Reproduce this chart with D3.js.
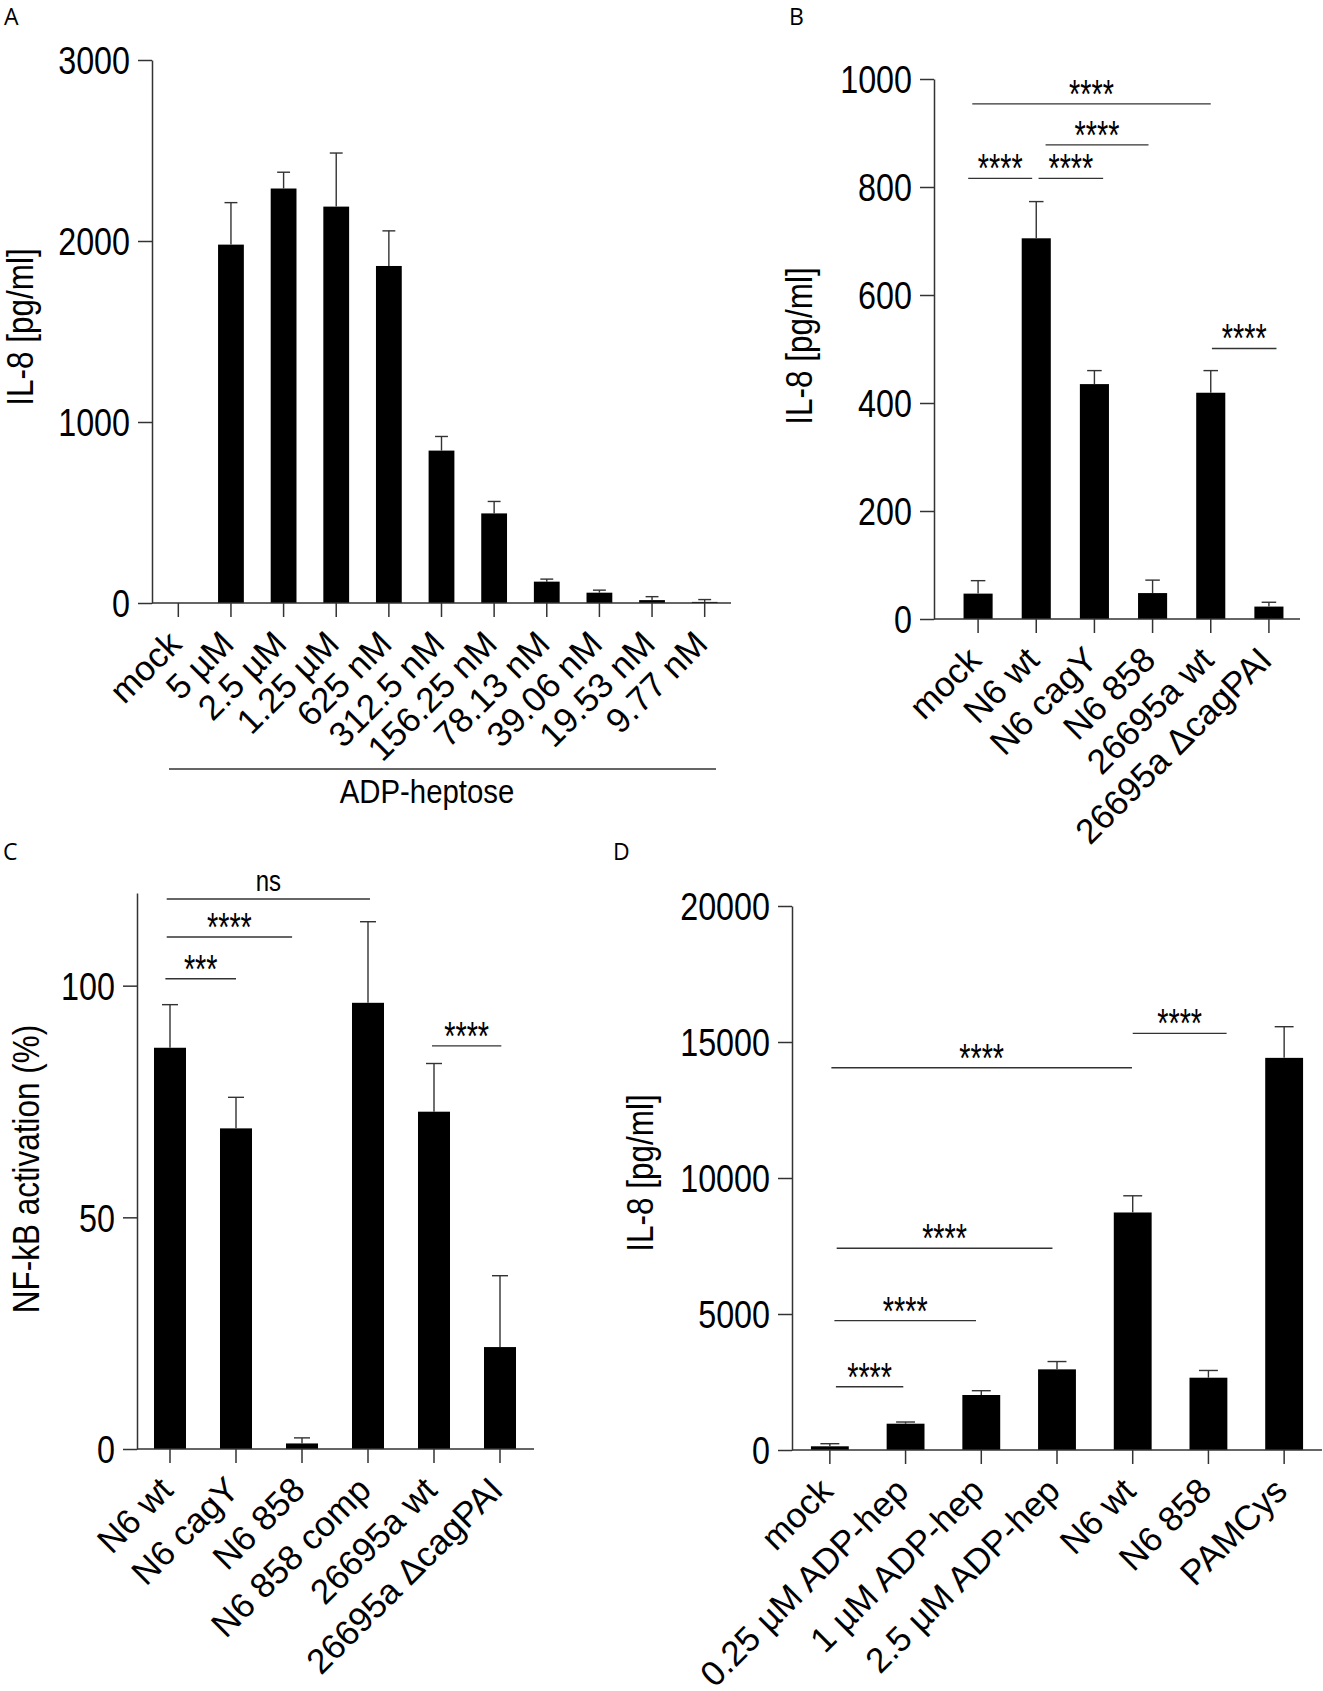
<!DOCTYPE html>
<html>
<head>
<meta charset="utf-8">
<script src="https://cdn.jsdelivr.net/npm/d3@7"></script>
<style>
  body { margin: 0; background: #fff; }
  svg { display: block; }
</style>
</head>
<body>
<svg id="fig"></svg>
<script>
// ---- data ----
// panel A: IL-8 vs ADP-heptose dose
var catsA = ["mock", "5 µM", "2.5 µM", "1.25 µM", "625 nM", "312.5 nM", "156.25 nM", "78.13 nM", "39.06 nM", "19.53 nM", "9.77 nM"];
var meanA = [0, 1980, 2290, 2190, 1862, 842, 495, 118, 57, 16, 6];
var sdA   = [0, 232, 90, 296, 194, 78, 66, 14, 14, 19, 13];
var ticksA = [0, 1000, 2000, 3000];

// panel B: IL-8, strains
var catsB = ["mock", "N6 wt", "N6 cagY", "N6 858", "26695a wt", "26695a \u0394cagPAI"];
var meanB = [47, 705, 435, 48, 419, 23];
var sdB   = [24, 68, 25, 24, 41, 8];
var ticksB = [0, 200, 400, 600, 800, 1000];
// [from, to (category index), y value, label]
var sigB = [[-0.17, 0.93, 816, "****"], [1.04, 2.15, 816, "****"], [1.16, 2.93, 878, "****"],
            [-0.10, 4.0, 954, "****"], [4.02, 5.13, 501, "****"]];

// panel C: NF-kB activation
var catsC = ["N6 wt", "N6 cagY", "N6 858", "N6 858 comp", "26695a wt", "26695a \u0394cagPAI"];
var meanC = [86.6, 69.2, 1.2, 96.3, 72.8, 22.0];
var sdC   = [9.3, 6.7, 1.2, 17.5, 10.4, 15.4];
var ticksC = [0, 50, 100];
var sigC = [[-0.05, 3.03, 118.7, "ns"], [-0.05, 1.85, 110.5, "****"], [-0.07, 1.0, 101.5, "***"],
            [3.97, 5.02, 87.0, "****"]];

// panel D: IL-8, ADP-heptose vs strains
var catsD = ["mock", "0.25 µM ADP-hep", "1 µM ADP-hep", "2.5 µM ADP-hep", "N6 wt", "N6 858", "PAMCys"];
var meanD = [136, 967, 2022, 2965, 8732, 2658, 14417];
var sdD   = [96, 62, 158, 287, 614, 266, 1145];
var ticksD = [0, 5000, 10000, 15000, 20000];
var sigD = [[0.02, 3.99, 14051, "****"], [4.0, 5.24, 15318, "****"], [0.09, 2.94, 7415, "****"],
            [0.06, 1.93, 4757, "****"], [0.08, 0.97, 2327, "****"]];

// ---- drawing ----
var FONT = "'Liberation Sans', Arial, Helvetica, sans-serif";
var INK = "#333";

var svg = d3.select("#fig").attr("width", 1323).attr("height", 1691);
svg.append("rect").attr("width", 1323).attr("height", 1691).attr("fill", "#fff");

function drawPanel(p) {
    var g = svg.append("g");

    var x = d3.scaleBand().domain(p.cats).range(p.band)
        .paddingInner(p.pad).paddingOuter(p.pad / 2);
    var y = d3.scaleLinear().domain(p.domain).range(p.yRange);
    var bw = x.bandwidth();
    function cx(f) { return x(p.cats[0]) + bw / 2 + f * x.step(); }

    // bars
    g.selectAll("rect.bar").data(p.means).enter().append("rect")
        .attr("class", "bar")
        .attr("x", function(d, i) { return x(p.cats[i]); })
        .attr("width", bw)
        .attr("y", function(d) { return y(d); })
        .attr("height", function(d) { return y(0) - y(d); })
        .attr("fill", "#000");

    // error bars (upper SD only)
    p.means.forEach(function(m, i) {
        if (!p.sds[i]) return;
        var c = x(p.cats[i]) + bw / 2;
        g.append("line").attr("x1", c).attr("x2", c)
            .attr("y1", y(m)).attr("y2", y(m + p.sds[i]))
            .attr("stroke", INK).attr("stroke-width", 1.4);
        g.append("line").attr("x1", c - bw * 0.25).attr("x2", c + bw * 0.25)
            .attr("y1", y(m + p.sds[i])).attr("y2", y(m + p.sds[i]))
            .attr("stroke", INK).attr("stroke-width", 1.4);
    });

    // y axis
    var ya = g.append("g").attr("transform", "translate(" + p.axisX + ",0)")
        .call(d3.axisLeft(y).tickValues(p.ticks).tickSize(14).tickSizeOuter(0)
              .tickFormat(d3.format("d")));
    ya.select(".domain").attr("stroke", INK).attr("stroke-width", 1.5);
    ya.selectAll(".tick line").attr("stroke", INK).attr("stroke-width", 1.5);
    ya.selectAll(".tick text")
        .attr("x", null).attr("dy", "0.36em")
        .attr("transform", "translate(-22,0) scale(0.85,1)")
        .attr("fill", "#000")
        .style("font-family", FONT).style("font-size", "38px");

    // x axis
    var xa = g.append("g").attr("transform", "translate(0," + y(0) + ")")
        .call(d3.axisBottom(x).tickSize(14).tickSizeOuter(0));
    xa.select(".domain").remove();
    xa.selectAll(".tick line").attr("stroke", INK).attr("stroke-width", 1.5);
    xa.selectAll(".tick text")
        .attr("y", null).attr("dy", null)
        .attr("transform", "translate(5,43) rotate(-45)")
        .attr("text-anchor", "end")
        .attr("fill", "#000")
        .style("font-family", FONT).style("font-size", "35px");
    g.append("line").attr("x1", p.axisX).attr("x2", p.axisEnd)
        .attr("y1", y(0)).attr("y2", y(0))
        .attr("stroke", INK).attr("stroke-width", 1.5);

    // y title
    g.append("text")
        .attr("transform", "translate(" + p.titleX + "," + p.titleY + ") rotate(-90) scale(0.85,1)")
        .attr("text-anchor", "middle")
        .style("font-family", FONT).style("font-size", "37px")
        .text(p.title);

    // significance brackets
    (p.sig || []).forEach(function(s) {
        var x1 = cx(s[0]), x2 = cx(s[1]), yy = y(s[2]);
        g.append("line").attr("x1", x1).attr("x2", x2).attr("y1", yy).attr("y2", yy)
            .attr("stroke", INK).attr("stroke-width", 1.4);
        var t = g.append("text").attr("text-anchor", "middle")
            .style("font-family", FONT).text(s[3]);
        if (s[3] == "ns") {
            t.attr("transform", "translate(" + ((x1 + x2) / 2) + "," + (yy - 8) + ") scale(0.8,1)")
             .style("font-size", "30px");
        } else {
            t.attr("transform", "translate(" + ((x1 + x2) / 2) + "," + (yy + 4) + ") scale(0.72,1)")
             .style("font-size", "40px");
        }
    });

    // panel letter
    g.append("text").attr("x", p.letterPos[0]).attr("y", p.letterPos[1])
        .style("font-family", "'Open Sans', sans-serif").style("font-size", "23px")
        .text(p.letter);

    return {g: g, x: x, y: y};
}

var A = drawPanel({
    cats: catsA, means: meanA, sds: sdA, ticks: ticksA,
    domain: [0, 3000], yRange: [603, 60],
    band: [152, 731], pad: 0.51, axisX: 152, axisEnd: 731,
    title: "IL-8 [pg/ml]", titleX: 33, titleY: 327,
    letter: "A", letterPos: [4, 25]
});
// ADP-heptose grouping line
A.g.append("line").attr("x1", 169).attr("x2", 716).attr("y1", 769).attr("y2", 769)
    .attr("stroke", INK).attr("stroke-width", 1.4);
A.g.append("text")
    .attr("transform", "translate(427,803) scale(0.89,1)")
    .attr("text-anchor", "middle")
    .style("font-family", FONT).style("font-size", "33px")
    .text("ADP-heptose");

drawPanel({
    cats: catsB, means: meanB, sds: sdB, ticks: ticksB, sig: sigB,
    domain: [0, 1000], yRange: [619, 79],
    band: [949, 1298], pad: 0.5, axisX: 934, axisEnd: 1300,
    title: "IL-8 [pg/ml]", titleX: 812, titleY: 346,
    letter: "B", letterPos: [789, 25]
});

drawPanel({
    cats: catsC, means: meanC, sds: sdC, ticks: ticksC, sig: sigC,
    domain: [0, 120], yRange: [1449, 893],
    band: [137, 533], pad: 0.515, axisX: 137, axisEnd: 534,
    title: "NF-kB activation (%)", titleX: 38.5, titleY: 1169,
    letter: "C", letterPos: [3, 860]
});

drawPanel({
    cats: catsD, means: meanD, sds: sdD, ticks: ticksD, sig: sigD,
    domain: [0, 20000], yRange: [1450, 906],
    band: [792, 1322], pad: 0.5, axisX: 792, axisEnd: 1322,
    title: "IL-8 [pg/ml]", titleX: 653, titleY: 1173,
    letter: "D", letterPos: [613, 860]
});
</script>
</body>
</html>
